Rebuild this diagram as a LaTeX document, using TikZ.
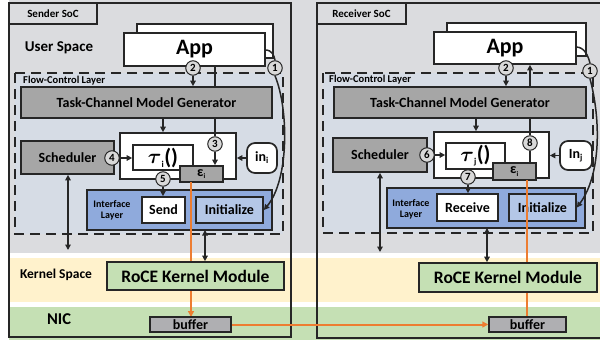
\documentclass[tikz,border=0pt]{standalone}
\usepackage{amsmath}
\usepackage{fontspec}
\setmainfont{Carlito}
\usetikzlibrary{arrows.meta}
\definecolor{bandgray}{HTML}{DBDCDF}
\definecolor{bandyellow}{HTML}{FFF2CC}
\definecolor{bandgreen}{HTML}{C5E0B4}
\definecolor{flowblue}{HTML}{D6DCE5}
\definecolor{ifblue}{HTML}{8FAADC}
\definecolor{initblue}{HTML}{B4C7E7}
\definecolor{boxgray}{HTML}{A6A6A6}
\definecolor{bufgray}{HTML}{AFAFB2}
\definecolor{circgray}{HTML}{D9D9D9}
\definecolor{lc}{HTML}{262626}
\definecolor{orangeline}{HTML}{ED7D31}
\newcommand{\fs}[1]{\fontsize{#1}{#1}\selectfont\bfseries}
\newcommand{\bigtau}{\raisebox{0.5pt}{$\boldsymbol{\tau}$}}
\tikzset{
  box/.style={draw=lc, line width=1.7pt, inner sep=0pt, align=center},
  graybox/.style={box, fill=boxgray},
  whitebox/.style={box, fill=white},
  num/.style={circle, draw=lc, fill=circgray, line width=1pt, minimum size=14.5pt, inner sep=0pt, font=\fs{11}},
  arr/.style={draw=lc, line width=1.5pt, -{Triangle[length=5.5pt,width=5.5pt]}},
  darr/.style={draw=lc, line width=1.5pt, {Triangle[length=5.5pt,width=5.5pt]}-{Triangle[length=5.5pt,width=5.5pt]}},
  plain/.style={draw=lc, line width=1.5pt},
  oarr/.style={draw=orangeline, line width=2pt, -{Triangle[length=6pt,width=6pt]}},
  oline/.style={draw=orangeline, line width=2pt},
  flowbox/.style={draw=lc, line width=1.8pt, dash pattern=on 10pt off 6pt, fill=flowblue},
  soc/.style={draw=lc, line width=2pt},
  lbl/.style={inner sep=0pt, align=center}
}
\begin{document}
\begin{tikzpicture}[x=1pt,y=-1pt]
\useasboundingbox (0,0) rectangle (600,343);
\clip (0,0) rectangle (600,343);
% background bands
\fill[bandgray] (9,0) rectangle (600,253);
\fill[bandyellow] (9,258) rectangle (600,302);
\fill[bandgreen] (9,307) rectangle (600,340);
% SoC boxes
\draw[soc] (9,3) rectangle (291,337);
\draw[soc] (317,3) rectangle (606,338);
\node[box, line width=1.5pt, minimum width=88pt, minimum height=21pt, font=\fs{11}] (slabel) at (53,13.5) {Sender SoC};
\node[box, line width=1.5pt, minimum width=89pt, minimum height=21pt, font=\fs{11}] (rlabel) at (361.5,13.5) {Receiver SoC};
% layer labels
\node[lbl, font=\fs{15}] (us) at (59,48) {User Space};
\node[lbl, font=\fs{13.5}] (ks) at (56,275) {Kernel Space};
\node[lbl, font=\fs{16.5}] (nic) at (59,319) {NIC};
% flow-control layers
\draw[flowbox] (15,73) rectangle (283,234);
\draw[flowbox] (323,73) rectangle (593,233);
\node[lbl, anchor=west, font=\fs{10.5}] (sfl) at (23,81) {Flow-Control Layer};
\node[lbl, anchor=west, font=\fs{10.5}] (rfl) at (329,80) {Flow-Control Layer};

% ===== Sender =====
\draw[box, fill=white] (137,24) rectangle (273,58);
\node[whitebox, minimum width=141pt, minimum height=33pt, font=\fs{22}] (sapp) at (194.5,49.5) {App};
\node[graybox, minimum width=251pt, minimum height=31pt, font=\fs{14}] (stcm) at (146.5,102.5) {Task-Channel Model Generator};
\node[graybox, minimum width=93pt, minimum height=33pt, font=\fs{14}] (ssch) at (67.5,157.5) {Scheduler};
\node[whitebox, minimum width=116pt, minimum height=46pt] (stauo) at (178,156) {};
\node[whitebox, minimum width=60pt, minimum height=25pt, font=\fs{22}] (staui) at (163,157.5) {\bigtau\textsubscript{\fs{9}i}()};
\node[box, fill=boxgray, minimum width=43pt, minimum height=16pt, font=\fs{14}] (seps) at (201.5,174) {ε\textsubscript{\fs{7}i}};
\node[whitebox, rounded corners=8pt, minimum width=30pt, minimum height=30pt, font=\fs{14}] (sin) at (262,158) {in\textsubscript{\fs{9}i}};
\node[box, fill=ifblue, minimum width=185pt, minimum height=40pt] (sif) at (179.5,210) {};
\node[lbl, font=\fs{10}] (siftxt) at (112,210) {Interface\\[1pt]Layer};
\node[whitebox, minimum width=43pt, minimum height=26pt, font=\fs{14}] (ssend) at (163.5,210) {Send};
\node[box, fill=initblue, minimum width=67pt, minimum height=26pt, font=\fs{14}] (sinit) at (229.5,210) {Initialize};

% ===== Receiver =====
\draw[box, fill=white] (447,23) rectangle (586,56);
\node[whitebox, minimum width=142pt, minimum height=32pt, font=\fs{22}] (rapp) at (505,48) {App};
\node[graybox, minimum width=252pt, minimum height=31pt, font=\fs{14}] (rtcm) at (460,102.5) {Task-Channel Model Generator};
\node[graybox, minimum width=94pt, minimum height=34pt, font=\fs{14}] (rsch) at (380,155) {Scheduler};
\node[whitebox, minimum width=115pt, minimum height=46pt] (rtauo) at (491.5,155) {};
\node[whitebox, minimum width=59pt, minimum height=26pt, font=\fs{22}] (rtaui) at (475.5,156) {\bigtau\textsubscript{\fs{9}j}()};
\node[box, fill=boxgray, minimum width=43pt, minimum height=17pt, font=\fs{14}] (reps) at (514.5,171.5) {ε\textsubscript{\fs{7}i}};
\node[whitebox, rounded corners=8pt, minimum width=32pt, minimum height=29pt, font=\fs{14}] (rin) at (576,155.5) {In\textsubscript{\fs{9}j}};
\node[box, fill=ifblue, minimum width=198pt, minimum height=40pt] (rif) at (486,208) {};
\node[lbl, font=\fs{10}] (riftxt) at (411,209) {Interface\\[1pt]Layer};
\node[whitebox, minimum width=61pt, minimum height=27pt, font=\fs{14}] (rrecv) at (467.5,207.5) {Receive};
\node[box, fill=initblue, minimum width=67pt, minimum height=27pt, font=\fs{14}] (rinit) at (542.5,207.5) {Initialize};

% ===== orange data path =====
\coordinate (sorange) at (191,182);
\coordinate (rorange) at (527,180);
\draw[oarr] (sorange) -- (191,317);
\draw[oline] (rorange) -- (527,317);
\node[box, line width=1.5pt, fill=bufgray, minimum width=81pt, minimum height=15pt, font=\fs{14}] (sbuf) at (190.5,324.5) {buffer};
\node[box, line width=1.5pt, fill=bufgray, minimum width=77pt, minimum height=15pt, font=\fs{14}] (rbuf) at (527.5,324.5) {buffer};
\draw[oarr] (sbuf.east) -- (rbuf.west);
\node[box, fill=bandgreen, minimum width=177pt, minimum height=28pt, font=\fs{17.5}] (sroce) at (195.5,276) {RoCE Kernel Module};
\node[box, fill=bandgreen, minimum width=178pt, minimum height=29pt, font=\fs{17.5}] (rroce) at (508,277.5) {RoCE Kernel Module};

% ===== circles =====
\node[num] (s1) at (275,68) {1};
\node[num] (s2) at (193,68) {2};
\node[num] (s3) at (215,144) {3};
\node[num] (s4) at (112,158) {4};
\node[num] (s5) at (163,179) {5};
\node[num] (r1) at (590,71) {1};
\node[num] (r2) at (506,68) {2};
\node[num] (r8) at (530,143) {8};
\node[num] (r6) at (427,155) {6};
\node[num] (r7) at (468,177) {7};

% ===== sender connectors =====
\draw[arr] (s2) -- (s2 |- stcm.north);
\draw[plain] (sapp.south -| s3) -- (stcm.north -| s3);
\draw[arr] (stcm.south -| s5) -- (stauo.north -| s5);
\draw[plain] (stcm.south -| s3) -- (s3);
\draw[arr] (s3) -- (seps.north -| s3);
\draw[arr] (s4) -- (staui.west |- s4);
\draw[arr] (sin.west) -- (stauo.east |- sin.west);
\draw[arr] (s5) -- (ssend.north -| s5);
\coordinate (sda) at (205,230);
\draw[darr] (sda) -- (sroce.north -| sda);
\coordinate (ssd) at (68,250);
\draw[darr] (ssch.south -| ssd) -- (ssd);
\coordinate (sappr) at (265,50);
\draw[plain] (sappr) .. controls (272,50) and (274,55) .. (s1.north);
\draw[arr] (s1.south) .. controls (289,110) and (289,180) .. (sinit.east);

% ===== receiver connectors =====
\draw[arr] (r2) -- (r2 |- rtcm.north);
\draw[arr] (rtcm.north -| r8) -- (rapp.south -| r8);
\draw[arr] (rtcm.south -| 476,0) -- (rtauo.north -| 476,0);
\draw[plain] (rtcm.south -| r8) -- (r8);
\draw[plain] (r8) -- (reps.north -| r8);
\draw[arr] (r6) -- (rtaui.west |- r6);
\draw[arr] (rin.west) -- (rtauo.east |- rin.west);
\draw[arr] (r7) -- (rrecv.north -| r7);
\coordinate (rda) at (487,228);
\draw[darr] (rda) -- (rroce.north -| rda);
\coordinate (rsd) at (380,252);
\draw[darr] (rsch.south -| rsd) -- (rsd);
\coordinate (rappr) at (576,47);
\draw[plain] (rappr) .. controls (584,47) and (588,55) .. (r1.north);
\draw[arr] (r1.south) .. controls (601,120) and (601,175) .. (rinit.east);
\end{tikzpicture}
\end{document}
